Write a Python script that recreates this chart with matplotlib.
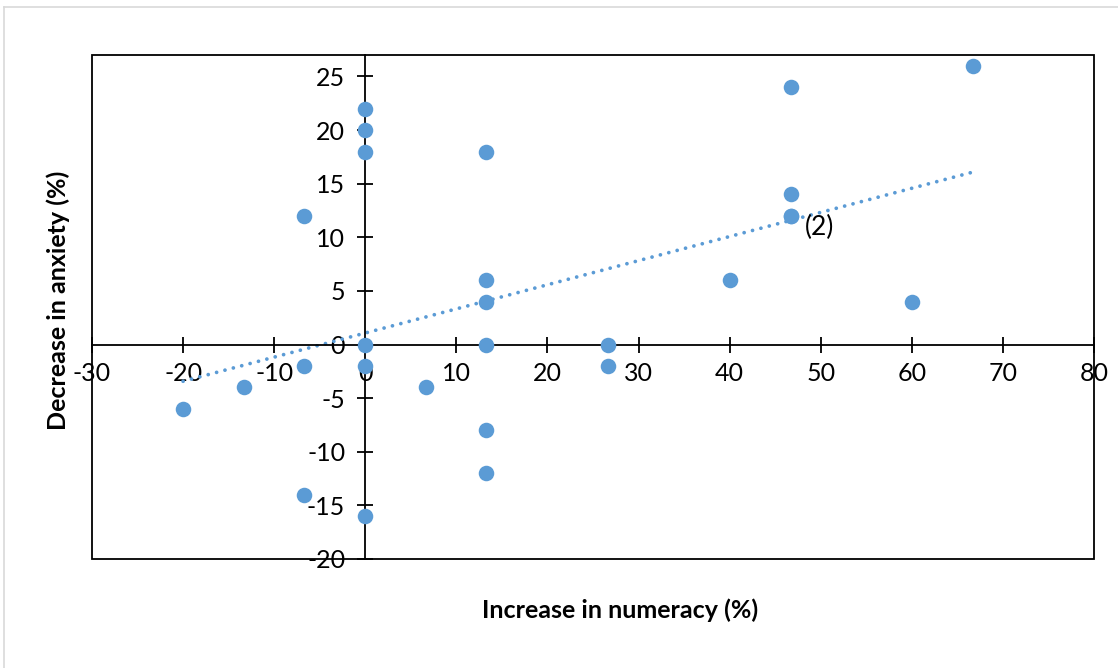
import numpy as np
import matplotlib
matplotlib.use("Agg")
import matplotlib.pyplot as plt
from matplotlib.patches import Rectangle
from matplotlib.lines import Line2D

plt.rcParams['font.family'] = ['Lato', 'DejaVu Sans']
plt.rcParams['axes.unicode_minus'] = False

# increase in numeracy (%) vs decrease in anxiety (%); (46.7, 12) appears twice
numeracy = [-20, -13.3, -6.7, -6.7, -6.7, 0, 0, 0, 0, 0, 0, 6.7,
            13.3, 13.3, 13.3, 13.3, 13.3, 13.3, 26.7, 26.7, 40,
            46.7, 46.7, 46.7, 46.7, 60, 66.7]
anxiety = [-6, -4, 12, -2, -14, 22, 20, 18, 0, -2, -16, -4,
           18, 6, 4, 0, -8, -12, 0, -2, 6,
           24, 14, 12, 12, 4, 26]
x_ticks = [-30, -20, -10, 0, 10, 20, 30, 40, 50, 60, 70, 80]
y_ticks = [-20, -15, -10, -5, 0, 5, 10, 15, 20, 25]

blue = "#5B9BD5"

fig = plt.figure(figsize=(11.18, 6.68), dpi=100)
ax = fig.add_axes([92 / 1118, 109 / 668, 1002 / 1118, 504 / 668])

# outer chart border (light grey)
fig.add_artist(Line2D([4 / 1118, 4 / 1118], [0, 1 - 7 / 668], color="#D9D9D9", lw=1.2))
fig.add_artist(Line2D([4 / 1118, 1], [1 - 7 / 668, 1 - 7 / 668], color="#D9D9D9", lw=1.2))

ax.scatter(numeracy, anxiety, s=125, color=blue, zorder=3, linewidths=0)

# linear trendline
slope, icpt = np.polyfit(numeracy, anxiety, 1)
tx = np.array([min(numeracy), max(numeracy)])
ax.plot(tx, slope * tx + icpt, color=blue, lw=2.7, linestyle=(0, (0.01, 2.3)),
        dash_capstyle="round", zorder=2)

ax.text(48.3, 10.9, "(2)", fontsize=19, va="center", ha="left")

ax.set_xlim(-30, 80)
ax.set_ylim(-20, 27)
ax.set_xticks(x_ticks)
ax.set_yticks(y_ticks)

for side in ["top", "right"]:
    ax.spines[side].set_visible(False)
ax.spines["left"].set_position(("data", 0))
ax.spines["bottom"].set_position(("data", 0))
ax.spines["left"].set_linewidth(1.3)
ax.spines["bottom"].set_linewidth(1.3)
ax.add_patch(Rectangle((0, 0), 1, 1, transform=ax.transAxes, fill=False,
                       edgecolor="black", lw=1.3, zorder=1, clip_on=False))

ax.tick_params(direction="inout", length=11, width=1.3, labelsize=18, colors="black")
ax.tick_params(axis="x", pad=7)
ax.tick_params(axis="y", pad=9)

fig.text(620 / 1118, 1 - 610 / 668, "Increase in numeracy (%)", fontsize=18,
         fontweight="bold", ha="center", va="center")
fig.text(58 / 1118, 1 - 300 / 668, "Decrease in anxiety (%)", fontsize=18,
         fontweight="bold", ha="center", va="center", rotation=90)

fig.savefig("out.png", dpi=100)
